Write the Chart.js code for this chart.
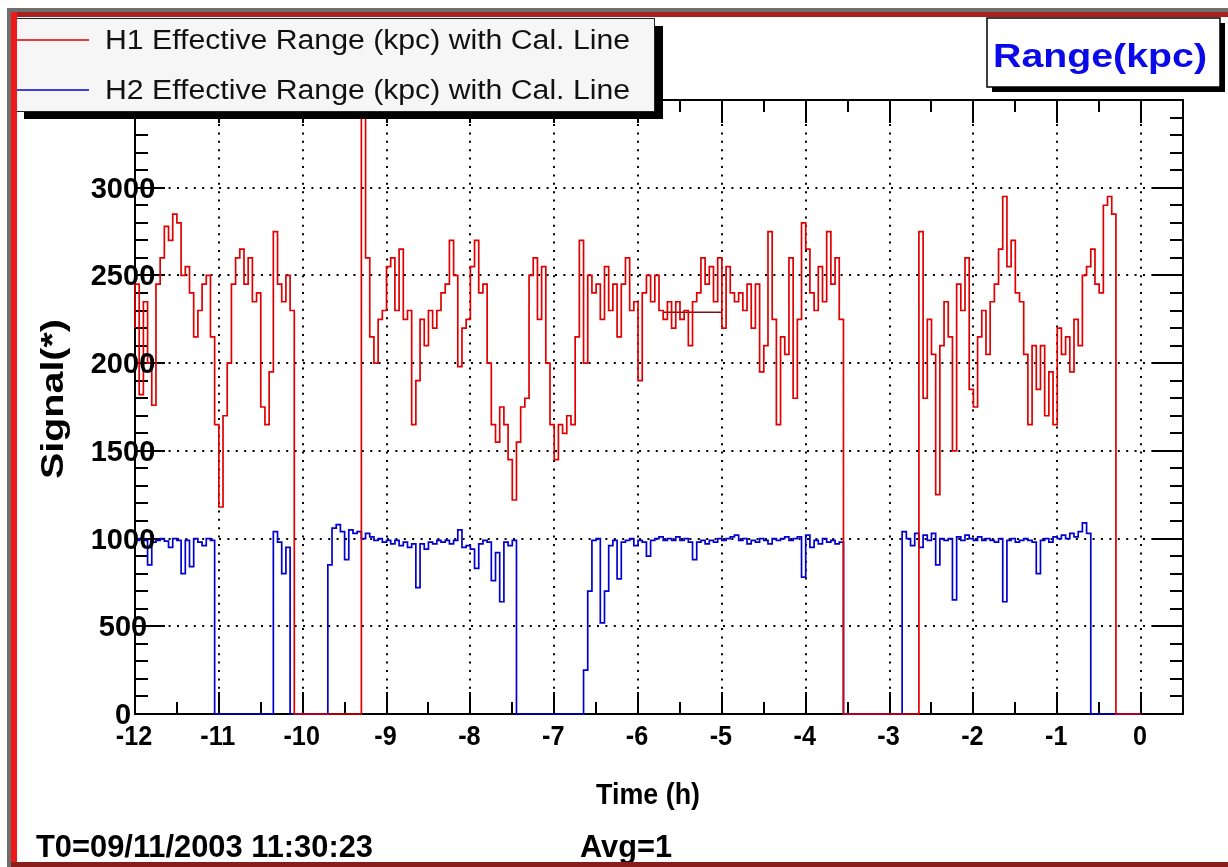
<!DOCTYPE html>
<html>
<head>
<meta charset="utf-8">
<title>Range(kpc)</title>
<script src="https://cdn.jsdelivr.net/npm/chart.js@4.4.1/dist/chart.umd.min.js"></script>
<style>
  html, body { margin: 0; padding: 0; background: #fff; }
  #range-chart { display: block; }
</style>
</head>
<body>
<canvas id="range-chart" width="1228" height="867"></canvas>
<script>
// histogram bins, 0.05 h wide, first bin starts at -12 h
const startHour = -12;
const binHours = 0.05;

const h1Range = [
  2200, 2450, 1820, 2350, 2000, 1760, 2450, 2600, 2780, 2700,
  2850, 2800, 2500, 2550, 2400, 2150, 2300, 2450, 2500, 2150,
  1650, 1180, 1700, 2000, 2450, 2600, 2650, 2450, 2600, 2350,
  2400, 1750, 1650, 1950, 2750, 2450, 2350, 2500, 2300, 0,
  0, 0, 0, 0, 0, 0, 0, 0, 0, 0,
  0, 0, 0, 0, 0, 3400, 2600, 2150, 2000, 2250,
  2300, 2550, 2600, 2300, 2650, 2250, 2300, 1650, 1900, 2250,
  2100, 2300, 2200, 2300, 2400, 2450, 2700, 2500, 1980, 2200,
  2250, 2550, 2700, 2400, 2450, 2000, 1650, 1550, 1750, 1650,
  1450, 1220, 1550, 1750, 1800, 2500, 2600, 2250, 2550, 2000,
  1650, 1450, 1650, 1600, 1700, 1650, 2150, 2700, 2000, 2500,
  2400, 2450, 2250, 2550, 2300, 2450, 2150, 2450, 2600, 2300,
  2350, 1900, 2400, 2500, 2350, 2500, 2300, 2250, 2350, 2200,
  2350, 2250, 2300, 2100, 2350, 2400, 2600, 2450, 2550, 2350,
  2600, 2200, 2550, 2400, 2350, 2400, 2300, 2450, 2200, 2450,
  1950, 2100, 2750, 2250, 1650, 2150, 2050, 2600, 1800, 2250,
  2800, 2650, 2400, 2300, 2550, 2350, 2750, 2450, 2600, 2250,
  0, 0, 0, 0, 0, 0, 0, 0, 0, 0,
  0, 0, 0, 0, 0, 0, 0, 0, 2750, 1800,
  2250, 2050, 1250, 2100, 2350, 2150, 1500, 2450, 2300, 2600,
  1850, 1750, 2150, 2300, 2050, 2350, 2450, 2650, 2950, 2550,
  2700, 2400, 2350, 2050, 1650, 2100, 1850, 2100, 1700, 1950,
  1650, 2200, 2050, 2150, 1950, 2250, 2100, 2500, 2550, 2650,
  2450, 2400, 2900, 2950, 2850, 0, 0, 0, 0, 0,
  0
];

const h2Range = [
  1020, 990, 1000, 990, 850, 980, 990, 1000, 985, 950,
  1000, 990, 800, 990, 840, 1000, 980, 960, 1000, 990,
  0, 0, 0, 0, 0, 0, 0, 0, 0, 0,
  0, 0, 0, 0, 1040, 980, 800, 950, 0, 0,
  0, 0, 0, 0, 0, 0, 0, 850, 1060, 1080,
  1040, 880, 1050, 1030, 1040, 1000, 1030, 1010, 990, 1000,
  980, 990, 970, 990, 960, 980, 950, 970, 720, 970,
  940, 980, 970, 990, 980, 990, 970, 990, 1050, 950,
  960, 940, 830, 970, 990, 980, 760, 920, 640, 980,
  960, 990, 0, 0, 0, 0, 0, 0, 0, 0,
  0, 0, 0, 0, 0, 0, 0, 0, 250, 700,
  990, 1000, 520, 700, 960, 990, 770, 980, 990, 1000,
  960, 990, 980, 900, 990, 1000, 1010, 990, 1000, 990,
  1010, 990, 1000, 980, 880, 980, 990, 970, 990, 980,
  1000, 990, 1000, 1010, 1020, 990, 1000, 970, 990, 980,
  1000, 990, 970, 1000, 990, 1000, 1010, 990, 1000, 1010,
  780, 1020, 950, 990, 970, 1000, 980, 990, 970, 980,
  0, 0, 0, 0, 0, 0, 0, 0, 0, 0,
  0, 0, 0, 0, 1040, 1000, 960, 1030, 950, 1020,
  990, 1030, 850, 1000, 990, 1000, 650, 1010, 990, 1020,
  1000, 990, 1010, 990, 1000, 990, 980, 1000, 640, 990,
  1000, 980, 990, 1000, 990, 980, 800, 990, 1000, 980,
  1010, 1000, 1020, 1000, 1030, 1010, 1040, 1090, 1030, 0,
  0, 0, 0, 0, 0, 0, 0, 0, 0, 0,
  0
];

// short calibration line seen around -5.5 h
const calHours = [-5.7, -5.0];
const calLevel = [2290, 2290];

const hourTicks = [-12, -11, -10, -9, -8, -7, -6, -5, -4, -3, -2, -1, 0];
const signalTicks = [0, 500, 1000, 1500, 2000, 2500, 3000];
const seriesNames = ['H1 Effective Range (kpc) with Cal. Line', 'H2 Effective Range (kpc) with Cal. Line'];
const seriesColors = ['#e00000', '#0000d0'];

const toPoints = values => values.map((v, i) => ({ x: startHour + i * binHours, y: v }));

function putText(ctx, text, x, y, font, opts = {}) {
  ctx.save();
  ctx.font = font;
  ctx.fillStyle = opts.color || '#000';
  ctx.textAlign = opts.align || 'center';
  ctx.textBaseline = 'alphabetic';
  ctx.translate(x, y);
  if (opts.angle) ctx.rotate(opts.angle);
  let sx = opts.stretch || 1;
  if (opts.width) sx = opts.width / ctx.measureText(text).width;
  ctx.scale(sx, 1);
  ctx.fillText(text, 0, 0);
  ctx.restore();
}

function seg(ctx, x1, y1, x2, y2) {
  ctx.beginPath();
  ctx.moveTo(x1, y1);
  ctx.lineTo(x2, y2);
  ctx.stroke();
}

const rootStyle = {
  id: 'rootStyle',
  beforeDraw(chart) {
    const { ctx, width, height } = chart;
    ctx.save();
    ctx.fillStyle = '#fff';
    ctx.fillRect(0, 0, width, height);
    ctx.restore();
  },
  beforeDatasetsDraw(chart) {
    const { ctx, chartArea: a, scales: { x, y } } = chart;
    ctx.save();
    // dotted grid
    ctx.strokeStyle = '#000';
    ctx.lineWidth = 2;
    ctx.setLineDash([2, 6.4]);
    hourTicks.slice(1).forEach(t => {
      const px = Math.round(x.getPixelForValue(t));
      seg(ctx, px, a.bottom, px, a.top);
    });
    signalTicks.slice(1).forEach(v => {
      const py = Math.round(y.getPixelForValue(v));
      seg(ctx, a.left, py, a.right, py);
    });
    ctx.setLineDash([]);

    // frame and inward ticks
    ctx.lineWidth = 2;
    ctx.strokeRect(a.left, a.top, a.right - a.left, a.bottom - a.top);
    for (let v = 0; v <= y.max; v += 100) {
      const py = Math.round(y.getPixelForValue(v));
      const len = v % 500 === 0 ? 30 : 13;
      seg(ctx, a.left, py, a.left + len, py);
      seg(ctx, a.right - len, py, a.right, py);
    }
    for (let t = x.min; t <= x.max + 1e-6; t += 0.5) {
      const px = Math.round(x.getPixelForValue(t));
      const major = Number.isInteger(t);
      seg(ctx, px, a.bottom, px, a.bottom - (major ? 22 : 12));
      seg(ctx, px, a.top, px, a.top + (major ? 23 : 12));
    }
    ctx.restore();
  },
  afterDatasetsDraw(chart) {
    const { ctx, chartArea: a, scales: { x, y } } = chart;
    const bold = size => `bold ${size}px "Liberation Sans", Arial, sans-serif`;

    signalTicks.forEach(v => {
      putText(ctx, String(v), 123, y.getPixelForValue(v) + 10, bold(29));
    });
    hourTicks.forEach(t => {
      putText(ctx, String(t), x.getPixelForValue(t) - 1, a.bottom + 31, bold(28), { stretch: 0.9 });
    });

    putText(ctx, 'Time (h)', 648, 804, bold(30), { width: 104 });
    putText(ctx, 'Signal(*)', 63, 399, bold(32), { width: 160, angle: -Math.PI / 2 });
    putText(ctx, 'T0=09/11/2003 11:30:23', 36, 857, bold(31), { align: 'left', width: 337 });
    putText(ctx, 'Avg=1', 580, 857, bold(31), { align: 'left', width: 92 });

    ctx.save();
    // legend box with shadow
    ctx.fillStyle = '#000';
    ctx.fillRect(24, 112, 639, 7);
    ctx.fillRect(655, 26, 8, 93);
    ctx.fillStyle = '#f6f6f6';
    ctx.fillRect(16, 18, 639, 94);
    ctx.strokeStyle = '#222';
    ctx.lineWidth = 1;
    ctx.strokeRect(16.5, 18.5, 638, 93);
    chart.data.datasets.slice(0, 2).forEach((ds, i) => {
      const ly = 40 + i * 50;
      ctx.strokeStyle = ds.borderColor;
      ctx.lineWidth = 1.6;
      seg(ctx, 16, ly, 89, ly);
      putText(ctx, ds.label, 105, ly + 9, '27px "Liberation Sans", Arial, sans-serif',
        { align: 'left', width: 525, color: '#111' });
    });

    // title box
    ctx.fillStyle = '#000';
    ctx.fillRect(992, 87, 233, 5);
    ctx.fillRect(1220, 23, 5, 69);
    ctx.fillStyle = '#fff';
    ctx.fillRect(987, 18, 233, 69);
    ctx.strokeStyle = '#000';
    ctx.lineWidth = 1.5;
    ctx.strokeRect(987, 18, 233, 69);
    putText(ctx, 'Range(kpc)', 1100, 67, bold(33), { width: 214, color: '#0a0ae8' });

    // canvas border
    ctx.fillStyle = '#6e6e6e';
    ctx.fillRect(7, 8, 1221, 4);
    ctx.fillRect(7, 8, 4, 859);
    ctx.fillStyle = '#a82020';
    ctx.fillRect(11, 12, 1217, 5);
    ctx.fillStyle = '#f01818';
    ctx.fillRect(11, 12, 6, 855);
    ctx.fillStyle = '#8a1c1c';
    ctx.fillRect(11, 862, 1217, 5);
    ctx.restore();
  }
};

new Chart(document.getElementById('range-chart'), {
  type: 'line',
  data: {
    datasets: [
      {
        label: seriesNames[0],
        data: toPoints(h1Range),
        borderColor: seriesColors[0],
        borderWidth: 1.7,
        stepped: 'after',
        clip: 4
      },
      {
        label: seriesNames[1],
        data: toPoints(h2Range),
        borderColor: seriesColors[1],
        borderWidth: 1.7,
        stepped: 'after',
        clip: 4
      },
      {
        label: 'Cal. Line',
        data: calHours.map((t, i) => ({ x: t, y: calLevel[i] })),
        borderColor: '#7a1010',
        borderWidth: 1.6
      }
    ]
  },
  options: {
    responsive: false,
    animation: false,
    devicePixelRatio: 1,
    layout: { padding: { left: 135, right: 45, top: 100, bottom: 153 } },
    elements: { point: { radius: 0 }, line: { tension: 0 } },
    plugins: { legend: { display: false }, tooltip: { enabled: false } },
    scales: {
      x: { type: 'linear', min: -12, max: 0.5, display: false },
      y: { type: 'linear', min: 0, max: 3500, display: false }
    }
  },
  plugins: [rootStyle]
});
</script>
</body>
</html>
